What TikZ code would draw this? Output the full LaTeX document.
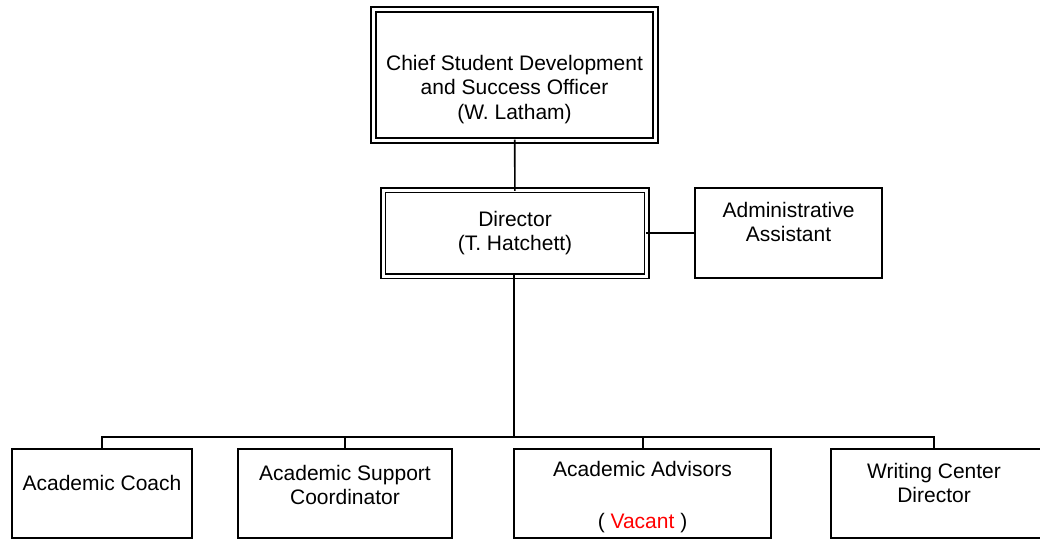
\documentclass[tikz,border=0pt]{standalone}
\usepackage{fontspec}
\setmainfont{Liberation Sans}
\usepackage{tikz}
\usetikzlibrary{positioning}
\definecolor{vacantred}{RGB}{255,0,0}
\tikzstyle{link}  =[line width=1.6pt, line cap=rect]
\tikzstyle{unit}  =[rectangle, draw, line width=1.7pt,
                    inner sep=0pt, outer sep=0pt]
\tikzstyle{lead}  =[unit, double, line width=1.6pt,
                    double distance=3pt]
\tikzstyle{txt}   =[inner sep=0pt, align=center, draw=none,
                    font=\fontsize{21}{24.5}\selectfont]

\begin{document}
\begin{tikzpicture}[x=1pt, y=-1pt]
    \useasboundingbox (0,0) rectangle (1040,540);
    \clip (0,0) rectangle (1040,540);

    % boxes
    \node (chief) [lead, minimum width=282pt, minimum height=131pt] at (514.5,75) {};
    \node (director) [lead, minimum width=263.5pt, minimum height=86pt] at (515,233) {};
    \node (admin) [unit, minimum width=187pt, minimum height=90pt] at (788.5,233) {};
    \node (coach) [unit, minimum width=180pt, minimum height=89pt] at (102,493.5) {};
    \node (support) [unit, minimum width=214pt, minimum height=89pt] at (345,493.5) {};
    \node (advisors) [unit, minimum width=257pt, minimum height=89pt] at (642.5,493.5) {};
    \node (writing) [unit, minimum width=212pt, minimum height=89pt] at (937,493.5) {};

    % texts
    \node (chief-t) [txt] at (514.5,89.5) {Chief Student Development\\and Success Officer\\(W. Latham)};
    \node (director-t) [txt] at (515,233) {Director\\(T. Hatchett)};
    \node (admin-t) [txt] at (788.5,222) {Administrative\\Assistant};
    \node (coach-t) [txt] at (102,483) {Academic Coach};
    \node (support-t) [txt] at (345,485) {Academic Support\\Coordinator};
    \node (advisors-t) [txt] at (642.5,497) {Academic Advisors\\[27.5pt]( \textcolor{vacantred}{Vacant} )};
    \node (writing-t) [txt] at (934,483) {Writing Center\\Director};

    % connectors
    \coordinate (bus) at (514,437);
    \draw [link] (chief) -- (director);
    \draw [link] (director) -- (admin);
    \draw [link, line width=2pt] (director.south -| bus) -- (bus);
    \draw [link] (coach.north) |- (bus);
    \draw [link] (support.north) |- (bus);
    \draw [link] (advisors.north -| 643,0) |- (bus);
    \draw [link] (writing.north -| 934,0) |- (bus);
\end{tikzpicture}
\end{document}
